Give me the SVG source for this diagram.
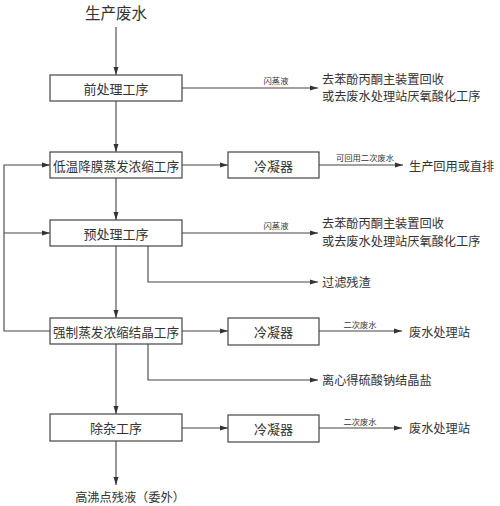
<svg xmlns="http://www.w3.org/2000/svg" width="500" height="506" viewBox="0 0 500 506">
<defs>
<marker id="ah" markerUnits="userSpaceOnUse" markerWidth="9" markerHeight="6" refX="8" refY="3" orient="auto">
<path d="M0,0.5 L8,3 L0,5.5 z" fill="#333"/>
</marker>
<style>
rect{fill:#fff;stroke:#444;stroke-width:1.2}
.c line,.c polyline{stroke:#444;stroke-width:1.1;fill:none}
.a{marker-end:url(#ah)}
text{font-family:"Noto Sans CJK SC","Noto Sans CJK JP",sans-serif;fill:#333;dominant-baseline:central}
.b{font-size:13px;text-anchor:middle}
.o{font-size:12.2px}
.s{font-size:8.3px;text-anchor:middle}
</style>
</defs>
<rect width="500" height="506" style="fill:#fff;stroke:none"/>
<text x="116" y="12" style="font-size:15.5px;text-anchor:middle">生产废水</text>
<g class="c">
<line class="a" x1="116" y1="27" x2="116" y2="75"/>
<line class="a" x1="116" y1="101" x2="116" y2="152"/>
<line class="a" x1="116" y1="178" x2="116" y2="220"/>
<line class="a" x1="116" y1="246" x2="116" y2="318"/>
<line class="a" x1="116" y1="344" x2="116" y2="414"/>
<line class="a" x1="116" y1="441" x2="116" y2="485"/>
<polyline class="a" points="50,331 4,331 4,165 50,165"/>
<line class="a" x1="4" y1="233" x2="50" y2="233"/>
<line class="a" x1="182" y1="88" x2="318" y2="88"/>
<line class="a" x1="182" y1="165" x2="228" y2="165"/>
<line class="a" x1="319" y1="165" x2="403" y2="165"/>
<line class="a" x1="182" y1="233" x2="318" y2="233"/>
<polyline class="a" points="148,246 148,282 318,282"/>
<line class="a" x1="182" y1="331" x2="228" y2="331"/>
<line class="a" x1="319" y1="331" x2="402" y2="331"/>
<polyline class="a" points="148,344 148,380 318,380"/>
<line class="a" x1="182" y1="428" x2="228" y2="428"/>
<line class="a" x1="319" y1="428" x2="402" y2="428"/>
</g>
<g id="n1"><rect x="50" y="75" width="132" height="26"/><text class="b" x="116" y="88">前处理工序</text></g>
<g id="n2"><rect x="50" y="152" width="132" height="26"/><text class="b" x="116" y="165" textLength="126" lengthAdjust="spacingAndGlyphs">低温降膜蒸发浓缩工序</text></g>
<g id="n3"><rect x="50" y="220" width="132" height="26"/><text class="b" x="116" y="233">预处理工序</text></g>
<g id="n4"><rect x="50" y="318" width="132" height="26"/><text class="b" x="116" y="331" textLength="126" lengthAdjust="spacingAndGlyphs">强制蒸发浓缩结晶工序</text></g>
<g id="n5"><rect x="50" y="414" width="132" height="27"/><text class="b" x="116" y="427.5">除杂工序</text></g>
<g id="k1"><rect x="228" y="152" width="91" height="26"/><text class="b" x="273.5" y="165">冷凝器</text></g>
<g id="k2"><rect x="228" y="318" width="91" height="27"/><text class="b" x="273.5" y="331.5">冷凝器</text></g>
<g id="k3"><rect x="228" y="415" width="91" height="27"/><text class="b" x="273.5" y="428.5">冷凝器</text></g>
<g id="labels">
<text class="s" x="276" y="80">闪蒸液</text>
<text class="s" x="365" y="157">可回用二次废水</text>
<text class="s" x="276" y="225">闪蒸液</text>
<text class="s" x="360" y="324">二次废水</text>
<text class="s" x="360" y="421">二次废水</text>
</g>
<g id="outs">
<text class="o" x="322" y="78.5">去苯酚丙酮主装置回收</text>
<text class="o" x="322" y="96">或去废水处理站厌氧酸化工序</text>
<text class="o" x="409" y="166">生产回用或直排</text>
<text class="o" x="322" y="223">去苯酚丙酮主装置回收</text>
<text class="o" x="322" y="241">或去废水处理站厌氧酸化工序</text>
<text class="o" x="322" y="282">过滤残渣</text>
<text class="o" x="409" y="332">废水处理站</text>
<text class="o" x="322" y="380">离心得硫酸钠结晶盐</text>
<text class="o" x="409" y="428">废水处理站</text>
<text class="o" x="130" y="497" style="text-anchor:middle">高沸点残液（委外）</text>
</g>
</svg>
